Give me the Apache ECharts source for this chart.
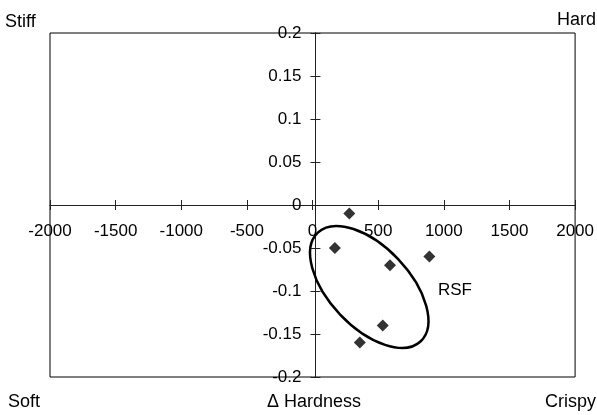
<!DOCTYPE html>
<html>
<head>
<meta charset="utf-8">
<script src="https://cdn.jsdelivr.net/npm/echarts@6/dist/echarts.min.js"></script>
<style>
  html, body { margin: 0; padding: 0; background: #fff; }
  #chart { width: 597px; height: 415px; }
</style>
</head>
<body>
<div id="chart"></div>
<script>
// RSF points: change in hardness vs change in stiffness
var hardness = [280, 170, 590, 890, 535, 360];
var stiffness = [-0.01, -0.05, -0.07, -0.06, -0.14, -0.16];

// ellipse around the group, in data units: centre, end of long axis, end of short axis
var ellipseCentre = [432, -0.0953];
var ellipseLongEnd = [824, -0.1584];
var ellipseShortEnd = [652, -0.0629];

var xMin = -2000, xMax = 2000, xStep = 500;
var yMin = -0.2, yMax = 0.2, yStep = 0.05;

var font = 'Liberation Sans, Arial, sans-serif';
var gridLeft = 50, gridRight = 19, gridTop = 33, gridBottom = 38;

var chart = echarts.init(document.getElementById('chart'));

// two copies of each axis: one with ticks outside and labels, one with ticks inside,
// so the ticks cross the line like in Excel
function xAxisCfg(withLabels) {
  return {
    type: 'value',
    min: xMin, max: xMax, interval: xStep,
    position: 'bottom',
    splitLine: { show: false },
    axisLine: { show: true, onZero: false, lineStyle: { color: '#222', width: 1 } },
    axisTick: { show: true, inside: !withLabels, length: 5, lineStyle: { color: '#222' } },
    axisLabel: {
      show: withLabels, margin: 18, color: '#000', fontSize: 17, fontFamily: font,
      formatter: function (v) { return String(v); }
    }
  };
}

function yAxisCfg(withLabels) {
  return {
    type: 'value',
    min: yMin, max: yMax, interval: yStep,
    position: 'left',
    splitLine: { show: false },
    axisLine: { show: true, onZero: false, lineStyle: { color: '#222', width: 1 } },
    axisTick: { show: true, inside: !withLabels, length: 5, lineStyle: { color: '#222' } },
    axisLabel: {
      show: withLabels, margin: 14, color: '#000', fontSize: 17, fontFamily: font,
      formatter: function (v) { return String(+v.toFixed(2)); }
    }
  };
}

var points = hardness.map(function (h, i) { return [h, stiffness[i]]; });

chart.setOption({
  animation: false,
  grid: {
    left: gridLeft, right: gridRight, top: gridTop, bottom: gridBottom,
    show: true, borderColor: '#000', borderWidth: 1, backgroundColor: '#fff'
  },
  xAxis: [xAxisCfg(true), xAxisCfg(false)],
  yAxis: [yAxisCfg(true), yAxisCfg(false)],
  series: [
    {
      type: 'scatter',
      symbol: 'diamond',
      symbolSize: 12,
      itemStyle: { color: '#000' },
      data: points
    },
    {
      type: 'custom',
      silent: true,
      renderItem: function (params, api) {
        var c = api.coord([api.value(0), api.value(1)]);
        var a = api.coord([api.value(2), api.value(3)]);
        var b = api.coord([api.value(4), api.value(5)]);
        var rx = Math.hypot(a[0] - c[0], a[1] - c[1]);
        var ry = Math.hypot(b[0] - c[0], b[1] - c[1]);
        return {
          type: 'ellipse',
          x: c[0], y: c[1],
          rotation: -Math.atan2(a[1] - c[1], a[0] - c[0]),
          shape: { cx: 0, cy: 0, rx: rx, ry: ry },
          style: { fill: 'none', stroke: '#000', lineWidth: 2.5 }
        };
      },
      data: [ellipseCentre.concat(ellipseLongEnd, ellipseShortEnd)]
    }
  ],
  graphic: [
    { type: 'text', x: 5, y: 22, style: { text: 'Stiff', font: '18px ' + font, fill: '#000', align: 'left', verticalAlign: 'middle' } },
    { type: 'text', x: 596, y: 20, style: { text: 'Hard', font: '18px ' + font, fill: '#000', align: 'right', verticalAlign: 'middle' } },
    { type: 'text', x: 8, y: 402, style: { text: 'Soft', font: '18px ' + font, fill: '#000', align: 'left', verticalAlign: 'middle' } },
    { type: 'text', x: 596, y: 402, style: { text: 'Crispy', font: '18px ' + font, fill: '#000', align: 'right', verticalAlign: 'middle' } },
    { type: 'text', x: 314, y: 402, style: { text: 'Δ Hardness', font: '18px ' + font, fill: '#000', align: 'center', verticalAlign: 'middle' } },
    { type: 'text', x: 438, y: 290, style: { text: 'RSF', font: '17px ' + font, fill: '#000', align: 'left', verticalAlign: 'middle' } }
  ]
});

// move both axes (line, ticks, labels) onto the zero lines of the other axis
var origin = chart.convertToPixel({ gridIndex: 0 }, [0, 0]);
var xOffset = origin[1] - (chart.getHeight() - gridBottom);
var yOffset = gridLeft - origin[0];
chart.setOption({
  xAxis: [{ offset: xOffset }, { offset: xOffset }],
  yAxis: [{ offset: yOffset }, { offset: yOffset }]
});
</script>
</body>
</html>
